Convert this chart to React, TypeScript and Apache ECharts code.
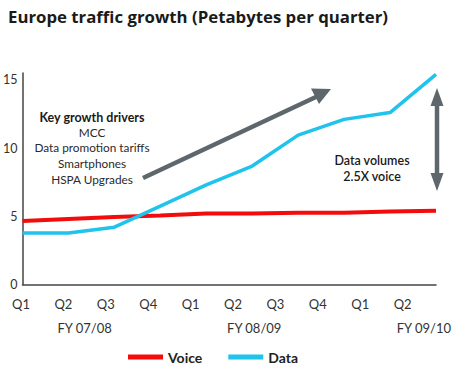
import React, { useEffect, useRef } from "react";
import * as echarts from "echarts";

const quarters = ["Q1", "Q2", "Q3", "Q4", "Q1", "Q2", "Q3", "Q4", "Q1", "Q2"];
const fiscalYears = ["FY 07/08", "FY 08/09", "FY 09/10"];
const voice = [4.65, 4.8, 4.95, 5.05, 5.2, 5.2, 5.25, 5.25, 5.35, 5.4];
const data = [3.78, 3.78, 4.2, 5.75, 7.3, 8.68, 10.95, 12.1, 12.6, 15.4];
const driverLines = ["MCC", "Data promotion tariffs", "Smartphones", "HSPA Upgrades"];

const FONT = "Lato, 'Open Sans', sans-serif";

export default function App() {
  const ref = useRef<HTMLDivElement>(null);
  useEffect(() => {
    if (!ref.current) return;
    const chart = echarts.init(ref.current, null, { renderer: "svg" });

    // half-step label axis: quarters on even slots, FY labels centred between Q2 and Q3
    const halfSteps: string[] = [];
    const fySlots: string[] = [];
    for (let i = 0; i < 21; i++) {
      halfSteps.push(i % 2 === 0 && i / 2 < quarters.length ? quarters[i / 2] : "");
      fySlots.push("");
    }
    fySlots[3] = fiscalYears[0];
    fySlots[11] = fiscalYears[1];
    fySlots[19] = fiscalYears[2];

    const grey = "#5e676b";
    const shaft = (x1: number, y1: number, x2: number, y2: number) => ({
      type: "line",
      shape: { x1, y1, x2, y2 },
      style: { stroke: grey, lineWidth: 4.5 },
    });

    chart.setOption({
      animation: false,
      textStyle: { fontFamily: FONT },
      title: {
        text: "Europe traffic growth (Petabytes per quarter)",
        left: 3,
        top: 3,
        textStyle: { fontFamily: "'Open Sans', sans-serif", fontSize: 16.8, fontWeight: "bold", color: "#1a1a1a" },
      },
      legend: {
        left: 123,
        top: 345,
        itemWidth: 35,
        itemHeight: 5,
        itemGap: 26,
        icon: "rect",
        data: ["Voice", "Data"],
        textStyle: { fontFamily: FONT, fontSize: 14, fontWeight: "bold", color: "#222" },
      },
      grid: [
        { left: 18, right: 37, top: 73, bottom: 85.5 },
        { left: 21, right: 28, top: 73, bottom: 85.5 },
      ],
      xAxis: [
        {
          type: "category",
          gridIndex: 0,
          boundaryGap: false,
          data: quarters,
          axisLine: { lineStyle: { color: "#444", width: 1.5 } },
          axisTick: { show: false },
          axisLabel: { show: false },
        },
        {
          type: "category",
          gridIndex: 1,
          boundaryGap: false,
          data: halfSteps,
          axisLine: { show: false },
          axisTick: { show: false },
          axisLabel: { interval: 0, margin: 13, fontSize: 13, color: "#333", fontFamily: FONT },
        },
        {
          type: "category",
          gridIndex: 1,
          position: "bottom",
          offset: 24,
          boundaryGap: false,
          data: fySlots,
          axisLine: { show: false },
          axisTick: { show: false },
          axisLabel: { interval: 0, margin: 13, fontSize: 13, color: "#333", fontFamily: FONT },
        },
      ],
      yAxis: [
        {
          type: "value",
          gridIndex: 0,
          min: 0,
          max: 15.5,
          interval: 5,
          splitLine: { show: false },
          axisLine: { show: true, lineStyle: { color: "#444", width: 1.5 } },
          axisTick: { show: false },
          axisLabel: {
            margin: 5,
            fontSize: 12.5,
            color: "#333",
            fontFamily: FONT,
            formatter: (v: number) => (v % 5 === 0 ? String(v) : ""),
          },
        },
        { type: "value", gridIndex: 1, show: false, min: 0, max: 15.5 },
      ],
      series: [
        {
          name: "Voice",
          type: "line",
          xAxisIndex: 0,
          yAxisIndex: 0,
          data: voice,
          symbol: "none",
          color: "#f20c0c",
          lineStyle: { width: 4, color: "#f20c0c" },
        },
        {
          name: "Data",
          type: "line",
          xAxisIndex: 0,
          yAxisIndex: 0,
          data: data,
          symbol: "none",
          color: "#1fc3ec",
          lineStyle: { width: 3.5, color: "#1fc3ec" },
          z: 3,
        },
      ],
      graphic: [
        {
          type: "text",
          x: 92,
          y: 117,
          style: {
            text: "Key growth drivers",
            align: "center",
            verticalAlign: "middle",
            fontFamily: FONT,
            fontSize: 12.5,
            fontWeight: "bold",
            fill: "#1a1a1a",
          },
        },
        ...driverLines.map((t, i) => ({
          type: "text",
          x: 92,
          y: 132 + i * 15.7,
          style: {
            text: t,
            align: "center",
            verticalAlign: "middle",
            fontFamily: FONT,
            fontSize: 11.8,
            fill: "#2a2a2a",
          },
        })),
        {
          type: "text",
          x: 372,
          y: 160,
          style: {
            text: "Data volumes",
            align: "center",
            verticalAlign: "middle",
            fontFamily: FONT,
            fontSize: 12.5,
            fontWeight: 600,
            fill: "#1a1a1a",
          },
        },
        {
          type: "text",
          x: 372,
          y: 176,
          style: {
            text: "2.5X voice",
            align: "center",
            verticalAlign: "middle",
            fontFamily: FONT,
            fontSize: 12.5,
            fontWeight: 600,
            fill: "#1a1a1a",
          },
        },
        // diagonal growth arrow
        shaft(143, 178, 318, 96),
        {
          type: "polygon",
          shape: { points: [[331, 89], [311, 88.5], [319, 104]] },
          style: { fill: grey },
        },
        // vertical double arrow
        shaft(437, 100, 437, 180),
        {
          type: "polygon",
          shape: { points: [[437, 88], [430.5, 106], [443.5, 106]] },
          style: { fill: grey },
        },
        {
          type: "polygon",
          shape: { points: [[437, 191], [430.5, 173], [443.5, 173]] },
          style: { fill: grey },
        },
      ],
    });
    return () => chart.dispose();
  }, []);

  return (
    <div
      ref={ref}
      style={{ position: "fixed", left: 0, top: 0, width: 473, height: 370, background: "#fff" }}
    />
  );
}
